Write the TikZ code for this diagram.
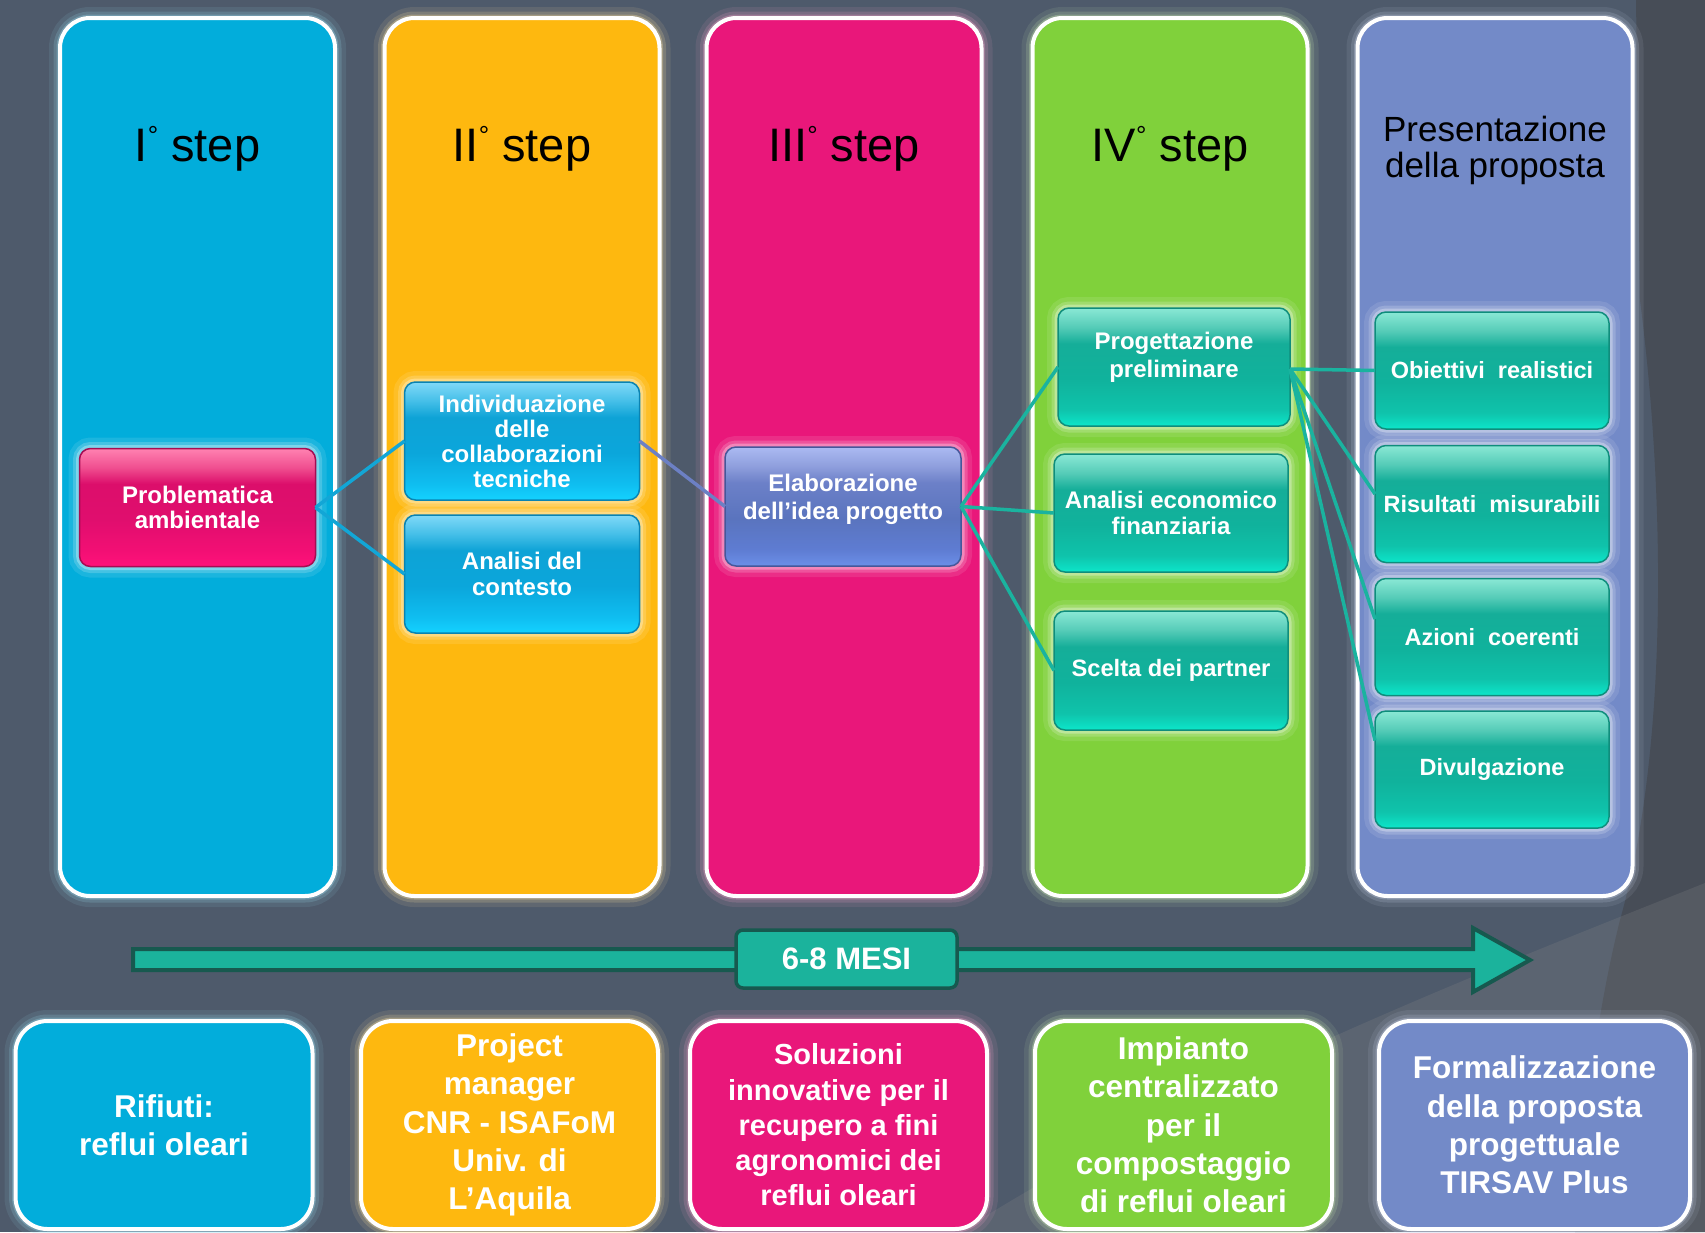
\documentclass[tikz,border=0pt]{standalone}
\usepackage{fontspec}
\setmainfont{Liberation Sans}
% small raised ring used in the step titles
\newcommand{\stepdeg}{\raisebox{17pt}{\fontsize{26}{26}\selectfont °}}
\begin{document}
% palette
\definecolor{bgslate}{HTML}{4E5A6B}
\definecolor{bgdark}{HTML}{474D57}
\definecolor{bglight}{HTML}{8A8A8A}
\definecolor{cCyan}{HTML}{02ADDB}
\definecolor{cAmber}{HTML}{FEB80F}
\definecolor{cMagenta}{HTML}{E9177A}
\definecolor{cGreen}{HTML}{80D13B}
\definecolor{cViolet}{HTML}{738AC8}
\definecolor{cTeal}{HTML}{1AB39F}
\definecolor{arrowfill}{HTML}{1BB39C}
\definecolor{arrowedge}{HTML}{17594F}
\definecolor{linkCyan}{HTML}{12A6D6}
\definecolor{linkBlue}{HTML}{6C80C4}
% glossy fills of the small boxes
\definecolor{tlA}{HTML}{8AE8D5}\definecolor{tlB}{HTML}{56CCB8}\definecolor{tlC}{HTML}{15AE99}
\definecolor{tlD}{HTML}{10B29C}\definecolor{tlE}{HTML}{0FC3AB}\definecolor{tlF}{HTML}{0CE6CA}
\definecolor{cyA}{HTML}{80D9F8}\definecolor{cyB}{HTML}{45BFE8}\definecolor{cyC}{HTML}{0EA3D6}
\definecolor{cyD}{HTML}{0BA6DB}\definecolor{cyE}{HTML}{0FBDF0}\definecolor{cyF}{HTML}{14D2FF}
\definecolor{pkA}{HTML}{FF82B1}\definecolor{pkB}{HTML}{F04F90}\definecolor{pkC}{HTML}{DC0E6B}
\definecolor{pkD}{HTML}{E00E6E}\definecolor{pkE}{HTML}{F20F74}\definecolor{pkF}{HTML}{FF127A}
\definecolor{buA}{HTML}{ABBAF2}\definecolor{buB}{HTML}{8F9FDD}\definecolor{buC}{HTML}{6C80C8}
\definecolor{buD}{HTML}{5A74BE}\definecolor{buE}{HTML}{5E7CD2}\definecolor{buF}{HTML}{6C8FE8}
\definecolor{tealedge}{HTML}{0F8D7C}
\definecolor{cyanedge}{HTML}{0A83B2}
\definecolor{pinkedge}{HTML}{A50D52}
\definecolor{blueedge}{HTML}{46579A}
\pgfdeclareverticalshading{tealgloss}{100bp}{color(0bp)=(tlF); color(25bp)=(tlF); color(32bp)=(tlE); color(45bp)=(tlD); color(60bp)=(tlC); color(67bp)=(tlB); color(75bp)=(tlA); color(100bp)=(tlA)}
\pgfdeclareverticalshading{cyangloss}{100bp}{color(0bp)=(cyF); color(25bp)=(cyF); color(32bp)=(cyE); color(45bp)=(cyD); color(60bp)=(cyC); color(67bp)=(cyB); color(75bp)=(cyA); color(100bp)=(cyA)}
\pgfdeclareverticalshading{pinkgloss}{100bp}{color(0bp)=(pkF); color(25bp)=(pkF); color(32bp)=(pkE); color(45bp)=(pkD); color(60bp)=(pkC); color(67bp)=(pkB); color(75bp)=(pkA); color(100bp)=(pkA)}
\pgfdeclareverticalshading{bluegloss}{100bp}{color(0bp)=(buF); color(25bp)=(buF); color(32bp)=(buE); color(45bp)=(buD); color(60bp)=(buC); color(67bp)=(buB); color(75bp)=(buA); color(100bp)=(buA)}
\begin{tikzpicture}[x=1pt,y=-1pt,
  glow/.style={preaction={draw=#1,line width=22pt,opacity=0.10},
               preaction={draw=#1,line width=13pt,opacity=0.18},
               preaction={draw=#1,line width=7pt,opacity=0.30}},
  column/.style={rectangle, rounded corners=30pt, minimum width=275pt,
                 minimum height=878pt, inner sep=0pt, outer sep=0pt,
                 fill=#1, draw=white, line width=4pt, glow=#1!40!white},
  coltitle/.style={anchor=base, text=black, align=center,
                   font=\fontsize{47}{52}\selectfont},
  inbox/.style={rectangle, rounded corners=11pt, inner sep=2pt, outer sep=0pt,
                minimum width=234pt, minimum height=118pt, line width=1.5pt,
                text=white, align=center, glow=white,
                font=\bfseries\fontsize{24}{25.5}\selectfont},
  tealbox/.style={inbox, shade, shading=tealgloss, draw=tealedge},
  cyanbox/.style={inbox, shade, shading=cyangloss, draw=cyanedge},
  pinkbox/.style={inbox, shade, shading=pinkgloss, draw=pinkedge},
  bluebox/.style={inbox, shade, shading=bluegloss, draw=blueedge},
  footbox/.style={rectangle, rounded corners=32pt, minimum width=297pt,
                  minimum height=208pt, inner sep=0pt, outer sep=0pt,
                  fill=#1, draw=white, line width=4pt, glow=#1!40!white,
                  text=white, align=center,
                  font=\bfseries\fontsize{31.5}{38.3}\selectfont},
  link/.style={line width=3.5pt, draw=#1},
]
\useasboundingbox (0,0) rectangle (1705,1232);

% backdrop
\fill[bgslate] (0,0) rectangle (1705,1232);
\fill[bgdark] (1636,0) -- (1640,300) .. controls (1668,520) and (1665,760) .. (1620,920)
  .. controls (1600,1000) and (1585,1100) .. (1575,1232) -- (1705,1232) -- (1705,0) -- cycle;
\fill[bglight, opacity=0.22] (1705,883) .. controls (1500,965) and (1200,1080) .. (960,1232)
  -- (1705,1232) -- cycle;

% the five phase columns
\node[column=cCyan]    (col1) at (197.5,457) {};
\node[column=cAmber]   (col2) at (522,457)   {};
\node[column=cMagenta] (col3) at (844,457)   {};
\node[column=cGreen]   (col4) at (1170,457)  {};
\node[column=cViolet]  (col5) at (1495,457)  {};

\node[coltitle] (t1) at (197.5,161.5) {I\stepdeg\ step};
\node[coltitle] (t2) at (522,161.5)   {II\stepdeg\ step};
\node[coltitle] (t3) at (844,161.5)   {III\stepdeg\ step};
\node[coltitle] (t4) at (1170,161.5)  {IV\stepdeg\ step};
\node[coltitle, font=\fontsize{35}{36}\selectfont] (t5) at (1495,177)
  {Presentazione\\della proposta};

% timeline arrow
\coordinate (arrTailT) at (133,949);
\coordinate (arrTailB) at (133,970);
\coordinate (arrNeckT) at (1473,949);
\coordinate (arrNeckB) at (1473,970);
\coordinate (arrHeadT) at (1473,928);
\coordinate (arrHeadB) at (1473,992);
\coordinate (arrTip)   at (1530,960);
\draw[fill=arrowfill, draw=arrowedge, line width=4pt, line join=miter]
  (arrTailT) -- (arrNeckT) -- (arrHeadT) -- (arrTip) -- (arrHeadB)
  -- (arrNeckB) -- (arrTailB) -- cycle;
\node[rectangle, rounded corners=7pt, minimum width=221pt, minimum height=58pt,
      fill=arrowfill, draw=arrowedge, line width=3.5pt, text=white,
      font=\bfseries\fontsize{31}{34}\selectfont] (months) at (846.5,959) {6-8 MESI};

% bottom summary boxes
\node[footbox=cCyan]    (b1) at (164,1125)    {Rifiuti:\\reflui oleari};
\node[footbox=cAmber]   (b2) at (509.5,1125)  {Project\\manager\\CNR - ISAFoM\\Univ. di\\L’Aquila};
\node[footbox=cMagenta, font=\bfseries\fontsize{29}{35.3}\selectfont]
                        (b3) at (838.5,1125)  {Soluzioni\\innovative per il\\recupero a fini\\agronomici dei\\reflui oleari};
\node[footbox=cGreen]   (b4) at (1183.5,1125) {Impianto\\centralizzato\\per il\\compostaggio\\di reflui oleari};
\node[footbox=cViolet, minimum width=311pt]
                        (b5) at (1534.5,1125) {Formalizzazione\\della proposta\\progettuale\\TIRSAV Plus};

% activity boxes
\node[pinkbox, minimum width=236pt]
      (prob) at (197.5,507.5) {Problematica\\ambientale};
\node[cyanbox, minimum width=235pt, font=\bfseries\fontsize{24}{25}\selectfont]
      (indiv) at (522,441) {Individuazione\\delle\\collaborazioni\\tecniche};
\node[cyanbox, minimum width=235pt] (ctx) at (522,574) {Analisi del\\contesto};
\node[bluebox, minimum width=236pt, minimum height=119pt,
      font=\bfseries\fontsize{24}{28}\selectfont]
      (elab) at (843,506.5) {Elaborazione\\dell’idea progetto\\[-8pt]\mbox{}};
\node[tealbox, minimum width=232pt, font=\bfseries\fontsize{24}{28}\selectfont]
      (prog) at (1174,367) {Progettazione\\preliminare\\[-4pt]\mbox{}};
\node[tealbox, font=\bfseries\fontsize{24}{25.5}\selectfont]
      (econ) at (1171,513) {Analisi economico\\finanziaria};
\node[tealbox, minimum height=119pt, font=\bfseries\fontsize{23.7}{25.5}\selectfont]
      (partner) at (1171,670.5) {Scelta dei partner};
\node[tealbox, minimum height=117pt, font=\bfseries\fontsize{23.5}{25}\selectfont]
      (obj) at (1492,370.5) {Obiettivi\ \ realistici};
\node[tealbox, minimum height=117pt, font=\bfseries\fontsize{23.5}{25}\selectfont]
      (res) at (1492,504) {Risultati\ \ misurabili};
\node[tealbox, minimum height=117pt, font=\bfseries\fontsize{23.5}{25}\selectfont]
      (act) at (1492,637) {Azioni\ \ coerenti};
\node[tealbox, minimum height=117pt, font=\bfseries\fontsize{23.5}{25}\selectfont]
      (div) at (1492,769.5) {Divulgazione};

% hierarchy links
\draw[link=linkCyan] (prob.east) -- (indiv.west);
\draw[link=linkCyan] (prob.east) -- (ctx.west);
\draw[link=linkBlue] (indiv.east) -- (elab.west);
\draw[link=cTeal] (elab.east) -- (prog.west);
\draw[link=cTeal] (elab.east) -- (econ.west);
\draw[link=cTeal] (elab.east) -- (partner.west);
\draw[link=cTeal] ([yshift=-2pt]prog.east) -- (obj.west);
\draw[link=cTeal] ([yshift=-2pt]prog.east) -- ([yshift=10pt]res.west);
\draw[link=cTeal] ([yshift=-2pt]prog.east) -- ([yshift=18pt]act.west);
\draw[link=cTeal] ([yshift=-2pt]prog.east) -- ([yshift=29pt]div.west);
\end{tikzpicture}
\end{document}
